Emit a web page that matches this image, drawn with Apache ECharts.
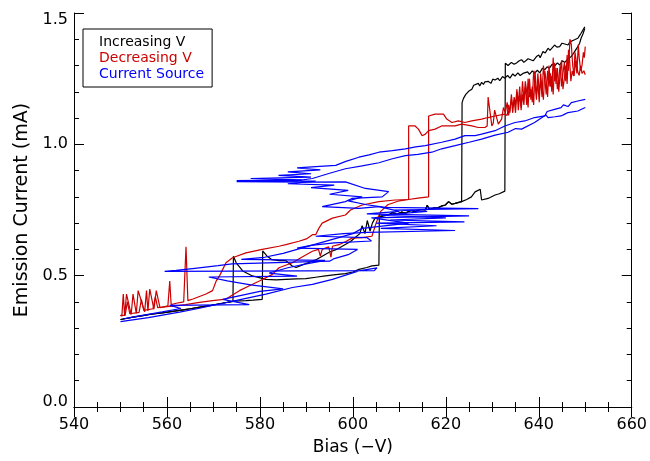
<!DOCTYPE html>
<html><head><meta charset="utf-8">
<script src="https://cdn.jsdelivr.net/npm/echarts@6/dist/echarts.min.js"></script>
<style>html,body{margin:0;padding:0;background:#fff}#c{width:650px;height:461px}</style>
</head><body><div id="c"></div>
<script>
// ---- Increasing V (black) ----
const incLower = [[550,0.333],[551.5,0.338],[553,0.343],[554.5,0.347],[556,0.352],[557.5,0.355],[559,0.358],[560.5,0.362],[562,0.366],[563.5,0.37],[565,0.374],[566.5,0.378],[568,0.383],[569.5,0.387],[571,0.392],[572.5,0.397],[574.2,0.402]];
const incMid = [[607.7,0.731],[608.5,0.74],[609.5,0.735],[610.5,0.742],[611.3,0.738],[612.5,0.748],[613.4,0.744],[614.5,0.752],[615.6,0.750],[616,0.768],[616.5,0.752],[617.5,0.758],[618.4,0.759],[619.2,0.766],[619.9,0.769],[620.6,0.782],[621.3,0.772],[622,0.775],[622.8,0.779],[623.4,0.782]];
const incSweep1 = [[574.3,0.574],[574.9,0.549],[576.3,0.518],[578.4,0.499],[581.3,0.486],[583.5,0.484],[585.6,0.486],[587.8,0.488],[589.9,0.489],[592,0.494],[594.1,0.499],[596.3,0.504],[598.4,0.508],[600,0.514],[601.3,0.524],[603,0.531],[604.1,0.537],[605.6,0.540],[605.7,0.731]];
const incBranchB = [[624.5,0.79],[625.5,0.80],[626.3,0.819],[627.4,0.829],[627.7,0.788],[629.1,0.794],[630.6,0.807],[631.5,0.812],[632.7,0.822],[632.8,1.309],[633.4,1.30],[634.1,1.312],[634.7,1.305],[635.2,1.31],[635.8,1.318],[636.3,1.322],[636.8,1.312],[637.2,1.315],[637.7,1.326],[638.1,1.325],[638.8,1.318],[639.5,1.334],[640.0,1.34],[640.3,1.33],[640.9,1.353],[641.4,1.348],[642,1.366],[642.4,1.358],[642.8,1.36],[643.4,1.378],[643.9,1.37],[644.5,1.372],[645.0,1.385],[645.6,1.382],[646.3,1.378],[646.7,1.39],[647,1.391],[647.7,1.398],[648.4,1.404],[648.8,1.415],[649.1,1.423],[649.5,1.43],[649.9,1.447]];
const incSweep2 = [[575.5,0.404],[577,0.405],[578.5,0.407],[580.5,0.41],[580.6,0.594],[581.5,0.575],[582.6,0.561],[584.1,0.557],[585.6,0.557],[586.9,0.538],[587.8,0.531],[589,0.54],[590.5,0.55],[592,0.56],[593.5,0.575],[595,0.59],[596.5,0.6],[598,0.615],[599.5,0.63],[600.5,0.645],[601.5,0.66],[602,0.69],[602.6,0.66],[603.1,0.71],[603.7,0.67],[604.2,0.7],[604.8,0.72],[606,0.725]];
const incBranchA = [[623.5,1.159],[623.8,1.175],[624.3,1.19],[624.9,1.202],[625.3,1.198],[625.6,1.21],[626.0,1.225],[626.3,1.218],[627.0,1.232],[627.3,1.222],[627.7,1.236],[628.1,1.228],[628.4,1.238],[629.1,1.240],[629.7,1.232],[630.1,1.248],[630.6,1.245],[631.2,1.252],[631.6,1.242],[632.2,1.258],[632.7,1.252],[633.3,1.262],[633.8,1.252],[634.4,1.268],[634.9,1.26],[635.5,1.272],[636.0,1.262],[636.6,1.27],[637.0,1.265],[637.6,1.276],[638.0,1.266],[638.6,1.28],[639.1,1.27],[639.7,1.282],[640.2,1.272],[640.8,1.29],[641.3,1.284],[641.8,1.295],[642.3,1.29],[642.9,1.305],[643.4,1.298],[644.0,1.31],[644.5,1.302],[645.1,1.318],[645.6,1.312],[646.3,1.326],[647.0,1.334],[647.6,1.35],[648.0,1.345],[648.4,1.372],[648.8,1.385],[649.1,1.404],[649.5,1.42],[649.9,1.441]];

// ---- Decreasing V (red) ----
const decNoise1 = [[650,1.265],[649.7,1.28],[649.3,1.27],[649,1.30],[648.7,1.262],[648.4,1.275],[648.1,1.27],[647.8,1.35],[647.5,1.26],[647.2,1.28],[646.9,1.24],[646.6,1.33],[646.4,1.36],[646.1,1.23],[645.8,1.30],[645.5,1.25],[645.2,1.21],[644.9,1.32],[644.6,1.27],[644.3,1.20],[644.0,1.29],[643.7,1.23],[643.4,1.31],[643.1,1.19],[642.8,1.26],[642.5,1.22],[642.2,1.30],[641.9,1.18],[641.6,1.24],[641.3,1.28],[641.0,1.17],[640.7,1.21],[640.4,1.27],[640.1,1.16],[639.8,1.23],[639.5,1.19],[639.2,1.28],[638.9,1.15],[638.6,1.22],[638.3,1.17],[638.0,1.25],[637.7,1.14],[637.4,1.20],[637.1,1.24],[636.8,1.15],[636.5,1.19],[636.2,1.13],[635.9,1.22],[635.6,1.16],[635.3,1.20],[635.0,1.12],[634.7,1.17],[634.4,1.14],[634.1,1.19],[633.8,1.12],[633.5,1.15],[633.2,1.11],[632.7,1.115]];
const decPlateau1 = [[630.6,1.108],[629.1,1.102],[627.7,1.096],[625.6,1.089],[624.1,1.083],[622.7,1.089],[621.3,1.083],[620.2,1.096],[619.5,1.115],[617.7,1.115],[616.3,1.108],[616.3,0.80]];
const decLow1 = [[614,0.795],[612,0.79],[609.1,0.788],[605.6,0.782],[602,0.769],[599.5,0.75],[598.4,0.731],[595.6,0.719],[593.4,0.70],[592.7,0.681],[592,0.656],[591.3,0.656],[590,0.64],[588.4,0.631],[585.6,0.618],[584.1,0.612],[580.5,0.60],[577,0.587],[574.1,0.568],[572.7,0.549],[572.0,0.524],[571.3,0.499],[570.6,0.48],[569.8,0.443],[568.4,0.43],[565.6,0.411],[564.5,0.405],[564.1,0.61],[563.6,0.40],[562,0.395],[560.9,0.39],[560.6,0.48],[560.2,0.385],[558.5,0.378],[557.7,0.443],[557.2,0.372],[556.3,0.449],[555.9,0.366],[555.6,0.443],[555.2,0.362],[553.8,0.443],[553.4,0.356],[552.7,0.43],[552.3,0.352],[551.3,0.43],[550.9,0.347],[550.6,0.43],[550.3,0.346],[550,0.35]];
const decNoise2 = [[650,1.372],[649.8,1.33],[649.6,1.35],[649.3,1.30],[649.0,1.28],[648.7,1.33],[648.5,1.38],[648.2,1.27],[647.9,1.32],[647.6,1.26],[647.3,1.30],[647.0,1.38],[646.7,1.40],[646.4,1.28],[646.1,1.34],[645.8,1.24],[645.5,1.31],[645.2,1.27],[644.9,1.22],[644.6,1.30],[644.3,1.25],[644.0,1.21],[643.7,1.29],[643.4,1.24],[643.1,1.33],[642.8,1.20],[642.5,1.27],[642.2,1.22],[641.9,1.28],[641.6,1.19],[641.3,1.25],[641.0,1.30],[640.7,1.18],[640.4,1.24],[640.1,1.20],[639.8,1.27],[639.5,1.17],[639.2,1.23],[638.9,1.28],[638.6,1.16],[638.3,1.21],[638.0,1.18],[637.7,1.25],[637.4,1.15],[637.1,1.22],[636.8,1.17],[636.5,1.24],[636.2,1.14],[635.9,1.19],[635.6,1.13],[635.3,1.21],[635.0,1.15],[634.7,1.18],[634.4,1.12],[634.1,1.17],[633.8,1.14],[633.5,1.11],[633.2,1.16],[632.8,1.12],[632.4,1.14],[632,1.096]];
const decPlateau2 = [[631.3,1.077],[630.5,1.13],[630.2,1.08],[629.9,1.070],[629.1,1.18],[628.9,1.07],[628.4,1.064],[627,1.064],[625.6,1.070],[623.4,1.077],[622,1.070],[620.6,1.070],[619.1,1.070],[617.7,1.058],[616.3,1.052],[615.6,1.039],[614.9,1.033],[614.1,1.058],[613.4,1.070],[612,1.070],[612,0.79]];
const decLow2 = [[610,0.785],[607.5,0.77],[606,0.745],[605,0.70],[604.1,0.65],[602,0.645],[599.8,0.643],[598.5,0.63],[597,0.618],[595.6,0.612],[595.3,0.57],[594.8,0.61],[593.4,0.60],[593.0,0.575],[592.6,0.60],[591.3,0.593],[589,0.57],[587,0.549],[584.1,0.53],[582.7,0.505],[579.9,0.48],[578.4,0.467],[575.6,0.443],[572.7,0.411],[569.8,0.405],[567,0.398],[564,0.39],[562,0.385],[560.5,0.383],[558,0.378],[557.5,0.42],[557,0.374],[555,0.368],[554.5,0.41],[554,0.36],[552,0.355],[551.5,0.40],[551,0.35],[550,0.348]];

// ---- Current Source (blue) ----
const srcUp = [[550,0.325],[556,0.34],[562.7,0.361],[567,0.376],[571.3,0.392],[576,0.41],[581.3,0.43],[587,0.455],[591.3,0.467],[595.6,0.486],[601.3,0.518],[605.2,0.53],[604.6,0.519],[559.5,0.516],[562,0.52],[566,0.528],[571,0.538],[574,0.545],[595,0.555],[596,0.565],[599,0.58],[601,0.6],[588,0.605],[591,0.615],[596,0.625],[604,0.632],[603,0.645],[592,0.65],[598,0.66],[603,0.665],[622,0.672],[606,0.68],[618,0.69],[605,0.70],[624,0.705],[608,0.712],[620,0.72],[606,0.73],[616,0.745],[609,0.75],[627,0.755],[607,0.76],[603,0.77],[599,0.785],[602,0.8],[595,0.81],[599,0.825],[591,0.835],[596,0.845],[586,0.85],[592,0.86],[575,0.862],[589,0.865],[578,0.87],[591,0.875],[584,0.882],[591,0.888],[586,0.895],[593,0.903],[588,0.91],[592,0.915]];
const srcTop = [[596.3,0.92],[598.5,0.935],[601.3,0.951],[603.5,0.96],[605.6,0.97],[608.5,0.976],[611.3,0.983],[613.5,0.99],[615.6,0.995],[619.1,1.008],[622,1.02],[624.1,1.033],[626.3,1.033],[627.7,1.039],[630.6,1.052],[632.7,1.07],[634.9,1.083],[637,1.089],[639.1,1.102],[641.3,1.108],[641.8,1.125],[642,1.121],[643.4,1.133],[644.8,1.14],[645.3,1.15],[646.3,1.144],[647,1.159],[648.4,1.165],[650,1.171]];
const srcReturn = [[650,1.14],[648.4,1.127],[646.3,1.121],[645.6,1.115],[644.8,1.108],[643.5,1.105],[642,1.102],[641.5,1.112],[639.1,1.083],[636.3,1.058],[635,1.06],[633.4,1.046],[630.6,1.035],[627.7,1.02],[625,1.008],[622,0.995],[619.1,0.983],[617,0.97],[614,0.962],[611.3,0.957],[608.5,0.945],[605.6,0.93],[602,0.918],[598.4,0.907],[595,0.89],[591.3,0.87],[588,0.862],[575,0.858],[590,0.856],[598.4,0.857],[602.7,0.832],[607.7,0.82],[606.3,0.80],[599.8,0.794],[598.4,0.782],[593.4,0.763],[601.3,0.756],[605.6,0.763],[610,0.745],[603,0.735],[625,0.728],[604,0.72],[612,0.70],[602,0.68],[600,0.66],[596,0.64],[592,0.62],[588,0.6],[585,0.585],[581,0.57],[576,0.562],[594,0.558],[590,0.545],[586,0.53],[582,0.51],[588,0.498],[569,0.495],[573,0.48],[578,0.465],[585,0.45],[580,0.44],[576,0.425],[572,0.41],[577.7,0.39],[560.6,0.387],[563,0.375],[559,0.362],[555,0.35],[552,0.34],[550.5,0.335]];

const BLACK = '#000000', RED = '#cc0000', BLUE = '#0000ff';
const incSweeps = [incLower.concat(incSweep1, incMid, incBranchB), incLower.concat(incSweep2, incMid, incBranchA)];
const decSweeps = [decNoise1.concat(decPlateau1, decLow1), decNoise2.concat(decPlateau2, decLow2)];
const srcSweeps = [srcUp.concat(srcTop), srcReturn];

function mk(name, color, data) {
  return {name, type:'line', data, showSymbol:false, symbol:'none', lineStyle:{color, width:1.2}, itemStyle:{color}, animation:false, silent:true};
}
const series = [];
incSweeps.forEach(d => series.push(mk('Increasing V', BLACK, d)));
decSweeps.forEach(d => series.push(mk('Decreasing V', RED, d)));
srcSweeps.forEach(d => series.push(mk('Current Source', BLUE, d)));

const FONT = 'DejaVu Sans';
const axisBase = {
  axisLine:{show:true, lineStyle:{color:'#000', width:1}},
  axisTick:{show:true, inside:true, length:10, lineStyle:{color:'#000'}},
  splitLine:{show:false}, minorSplitLine:{show:false}
};
const xMinor = {minorTick:{show:true, splitNumber:4, length:5, lineStyle:{color:'#000'}}};
const yMinor = {minorTick:{show:true, splitNumber:5, length:5, lineStyle:{color:'#000'}}};
const lblStyle = {color:'#000', fontFamily:FONT, fontSize:16};
const chart = echarts.init(document.getElementById('c'), null, {renderer:'canvas'});
chart.setOption({
  animation:false,
  backgroundColor:'#fff',
  grid:{left:74, right:16, top:13, bottom:50, containLabel:false},
  legend:{orient:'vertical', left:83, top:29, itemWidth:0, itemHeight:14, itemGap:2, padding:[6,8,6,11],
    borderColor:'#000', borderWidth:1, icon:'none', selectedMode:false,
    textStyle:{fontFamily:FONT, fontSize:14},
    data:[{name:'Increasing V', textStyle:{color:BLACK}},{name:'Decreasing V', textStyle:{color:RED}},{name:'Current Source', textStyle:{color:BLUE}}]},
  xAxis:[
    Object.assign({type:'value', position:'bottom', min:540, max:660, interval:20,
      axisLabel:Object.assign({margin:10}, lblStyle),
      name:'Bias (\u2212V)', nameLocation:'middle', nameGap:32,
      nameTextStyle:{color:'#000', fontFamily:FONT, fontSize:17}}, axisBase, xMinor),
    Object.assign({type:'value', position:'top', min:540, max:660, interval:20, axisLabel:{show:false}}, axisBase, xMinor)
  ],
  yAxis:[
    Object.assign({type:'value', position:'left', min:0, max:1.5, interval:0.5,
      axisLabel:Object.assign({margin:6,
        formatter:v => v === 0 ? '{b|0.0}' : (v === 1.5 ? '{t|1.5}' : v.toFixed(1)),
        rich:{b:Object.assign({padding:[0,0,10,0]}, lblStyle), t:Object.assign({padding:[14,0,0,0]}, lblStyle)}}, lblStyle),
      name:'Emission Current (mA)', nameLocation:'middle', nameGap:41,
      nameTextStyle:{color:'#000', fontFamily:FONT, fontSize:19}}, axisBase, yMinor),
    Object.assign({type:'value', position:'right', min:0, max:1.5, interval:0.5, axisLabel:{show:false}}, axisBase, yMinor)
  ],
  series
});
</script></body></html>
